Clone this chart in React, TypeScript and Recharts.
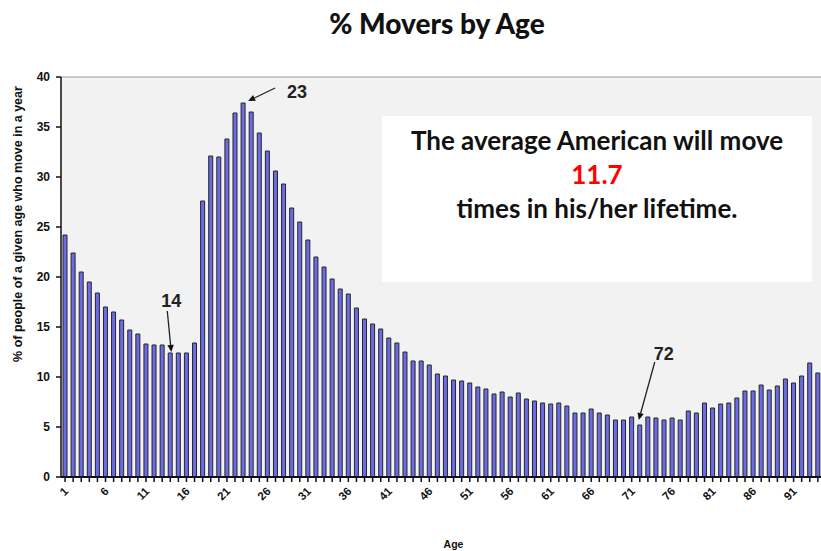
import React from 'react';
import { BarChart, Bar, XAxis, YAxis, CartesianGrid, ReferenceDot, ReferenceLine, Label } from 'recharts';

// ages shown on the category axis
const AGES = [
  1, 2, 3, 4, 5, 6, 7, 8, 9, 10, 11, 12, 13, 14, 15, 16, 17, 18, 19, 20,
  21, 22, 23, 24, 25, 26, 27, 28, 29, 30, 31, 32, 33, 34, 35, 36, 37, 38, 39, 40,
  41, 42, 43, 44, 45, 46, 47, 48, 49, 50, 51, 52, 53, 54, 55, 56, 57, 58, 59, 60,
  61, 62, 63, 64, 65, 66, 67, 68, 69, 70, 71, 72, 73, 74, 75, 76, 77, 78, 79, 80,
  81, 82, 83, 84, 85, 86, 87, 88, 89, 90, 91, 92, 93, 94, 95,
];

// % of people of a given age who move in a year
const MOVERS_PCT = [
  24.2, 22.4, 20.5, 19.5, 18.4, 17.0, 16.5, 15.7, 14.7, 14.3, 13.3, 13.2, 13.2, 12.4, 12.4, 12.4, 13.4, 27.6, 32.1, 32.0,
  33.8, 36.4, 37.4, 36.5, 34.4, 32.6, 30.6, 29.3, 26.9, 25.5, 23.7, 22.0, 21.0, 19.8, 18.8, 18.3, 16.9, 15.8, 15.3, 14.8,
  13.9, 13.4, 12.5, 11.6, 11.6, 11.2, 10.3, 10.1, 9.7, 9.6, 9.4, 9.0, 8.8, 8.3, 8.5, 8.0, 8.4, 7.8, 7.6, 7.4,
  7.3, 7.4, 7.1, 6.4, 6.4, 6.8, 6.4, 6.2, 5.7, 5.7, 6.0, 5.2, 6.0, 5.9, 5.7, 5.9, 5.7, 6.6, 6.4, 7.4,
  6.9, 7.3, 7.4, 7.9, 8.6, 8.6, 9.2, 8.7, 9.1, 9.8, 9.4, 10.1, 11.4, 10.4, 13.0,
];

const Y_TICKS = [0, 5, 10, 15, 20, 25, 30, 35, 40];
const X_TICK_LABELS = ['1', '6', '11', '16', '21', '26', '31', '36', '41', '46', '51', '56', '61', '66', '71', '76', '81', '86', '91'];

// called-out ages
const CALLOUT_AGES = [14, 23, 72];

const data = AGES.map((age, i) => ({ age, pct: MOVERS_PCT[i] }));

// label / arrow offsets relative to the bar top
const calloutStyle: Record<number, { lx: number; ly: number; ax: number; ay: number; tx: number; ty: number }> = {
  14: { lx: 1, ly: -46, ax: -3, ay: -42, tx: 1, ty: -1 },
  23: { lx: 54, ly: -5, ax: 32, ay: -15, tx: 5, ty: -2 },
  72: { lx: 24, ly: -65, ax: 15, ay: -63, tx: -1, ty: -5 },
};

const XTick = (props: any) => {
  const { x, y, payload } = props;
  const label = String(payload.value);
  if (!X_TICK_LABELS.includes(label)) return null;
  return (
    <text
      x={x + 4}
      y={y + 8}
      transform={`rotate(-45, ${x + 4}, ${y + 8})`}
      textAnchor="end"
      fontSize={11.5}
      fontWeight="bold"
      fontFamily="Liberation Sans, Arial"
      fill="#111"
    >
      {label}
    </text>
  );
};

const Callout = (age: number) => (props: any) => {
  const { cx, cy } = props;
  const s = calloutStyle[age];
  const x1 = cx + s.ax, y1 = cy + s.ay;
  const x2 = cx + s.tx, y2 = cy + s.ty;
  const ang = Math.atan2(y2 - y1, x2 - x1);
  const len = 7, half = 3.2;
  const bx = x2 - len * Math.cos(ang), by = y2 - len * Math.sin(ang);
  const p1 = `${x2},${y2}`;
  const p2 = `${bx + half * Math.sin(ang)},${by - half * Math.cos(ang)}`;
  const p3 = `${bx - half * Math.sin(ang)},${by + half * Math.cos(ang)}`;
  return (
    <g>
      <line x1={x1} y1={y1} x2={bx} y2={by} stroke="#222" strokeWidth={1.3} />
      <polygon points={`${p1} ${p2} ${p3}`} fill="#111" />
      <text x={cx + s.lx} y={cy + s.ly} textAnchor="middle" fontSize={18} fontWeight="bold"
        fontFamily="Liberation Sans, Arial" fill="#222">
        {age}
      </text>
    </g>
  );
};

export default function App() {
  return (
    <div style={{ position: 'fixed', left: 0, top: 0, width: 821, height: 551, overflow: 'hidden', background: '#fff' }}>
      <div style={{
        position: 'absolute', left: 300, top: 6, width: 274, textAlign: 'center', whiteSpace: 'nowrap',
        fontFamily: 'Lato, sans-serif', fontWeight: 900, fontSize: 28, color: '#111',
      }}>
        % Movers by Age
      </div>
      <div style={{
        position: 'absolute', left: 0, top: 224, width: 36, height: 0,
      }}>
        <div style={{
          position: 'absolute', left: 18, top: 0, transform: 'translate(-50%, -50%) rotate(-90deg)',
          whiteSpace: 'nowrap', fontFamily: 'Liberation Sans, Arial', fontWeight: 'bold', fontSize: 12.5, color: '#111',
        }}>
          % of people of a given age who move in a year
        </div>
      </div>
      <BarChart width={830} height={551} data={data} margin={{ top: 77, right: 0, left: 0, bottom: 0 }}
        barCategoryGap={0}>
        <CartesianGrid horizontal={false} vertical={false} fill="#f2f2f2" />
        <ReferenceLine y={40} stroke="#9a9a9a" />
        <XAxis dataKey="age" interval={0} height={74} tick={<XTick />} tickSize={5} tickMargin={2}
          axisLine={{ stroke: '#111', strokeWidth: 2 }} tickLine={{ stroke: '#111', strokeWidth: 1.5 }}>
          <Label value="Age" position="insideBottom" offset={3} dx={8} fontSize={10.5} fontWeight="bold"
            fontFamily="Liberation Sans, Arial" fill="#111" />
        </XAxis>
        <YAxis width={61} domain={[0, 40]} ticks={Y_TICKS} interval={0} tickSize={5} tickMargin={6}
          tick={{ fontSize: 12, fontWeight: 'bold', fontFamily: 'Liberation Sans, Arial', fill: '#111' }}
          axisLine={{ stroke: '#111', strokeWidth: 1.5 }} tickLine={{ stroke: '#111', strokeWidth: 1.5 }} />
        <Bar dataKey="pct" barSize={4} fill="#6b6be8" stroke="#262626" strokeWidth={1} isAnimationActive={false} />
        {CALLOUT_AGES.map((age) => (
          <ReferenceDot key={age} x={age} y={MOVERS_PCT[AGES.indexOf(age)]} r={0}
            shape={Callout(age)} ifOverflow="visible" />
        ))}
      </BarChart>
      <div style={{
        position: 'absolute', left: 382, top: 116, width: 430, height: 166, background: '#fff',
        boxSizing: 'border-box', paddingTop: 7, textAlign: 'center',
        fontFamily: 'Lato, sans-serif', fontWeight: 'bold', fontSize: 26, lineHeight: '34px', color: '#111',
      }}>
        <div>The average American will move</div>
        <div style={{ color: '#ff0000' }}>11.7</div>
        <div>times in his/her lifetime.</div>
      </div>
    </div>
  );
}
